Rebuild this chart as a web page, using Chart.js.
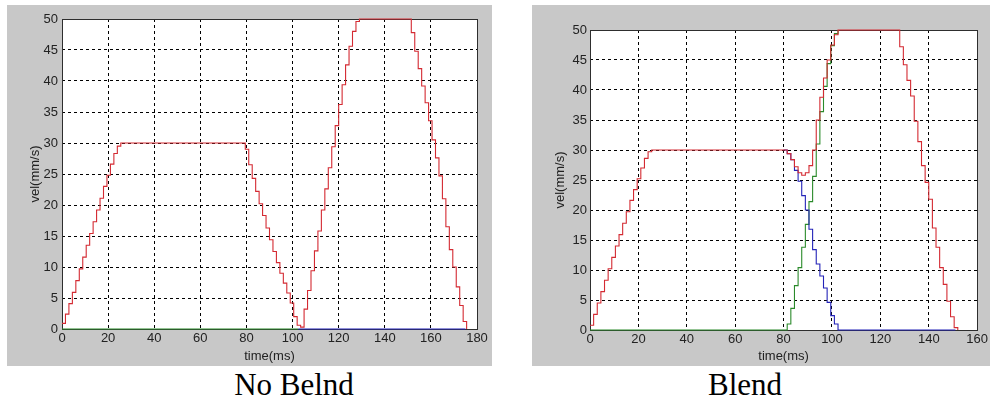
<!DOCTYPE html>
<html>
<head>
<meta charset="utf-8">
<script src="https://cdn.jsdelivr.net/npm/chart.js@4.4.0/dist/chart.umd.min.js"></script>
<style>
html,body{margin:0;padding:0;background:#fff;width:990px;height:401px;overflow:hidden;position:relative}
.panel{position:absolute;background:#c8c8c8}
.panel canvas{position:absolute;left:0;top:0}
.cap{position:absolute;font-family:"Liberation Serif","Times New Roman",serif;font-size:31px;line-height:31px;color:#000;white-space:nowrap;transform:translateX(-50%)}
</style>
</head>
<body>
<div class="panel" style="left:7px;top:5px;width:485px;height:361px"><canvas id="c1" width="485" height="361"></canvas></div>
<div class="panel" style="left:532px;top:5px;width:458px;height:361px"><canvas id="c2" width="458" height="361"></canvas></div>
<div class="cap" style="left:294px;top:369px">No Belnd</div>
<div class="cap" style="left:745px;top:369px">Blend</div>
<script>
// ---- Axis labels / ticks ----
const xTitle = "time(ms)";
const yTitle = "vel(mm/s)";
const captions = ["No Belnd", "Blend"];
const yTicksStep = 5, yMin = 0, yMax = 50;
const xTickStep = 20;
const noBlendXMax = 180;
const blendXMax = 160;

// ---- No Blend: red (combined) velocity ----
const nbRedT = [0,1.5,3,4.5,6,7.5,9,10.5,12,13.5,15,16.5,18,19.5,21,22.5,24,25.5,
  78,79.5,81,82.5,84,85.5,87,88.5,90,91.5,93,94.5,96,97.5,99,100.5,102,103.5,105,106.5,108,109.5,111,112.5,114,115.5,117,118.5,120,121.5,123,124.5,126,127.5,129,
  150,151.5,153,154.5,156,157.5,159,160.5,162,163.5,165,166.5,168,169.5,171,172.5,174,175.5];
const nbRedV = [0.9,2.4,4.1,5.9,7.8,9.7,11.6,13.5,15.4,17.3,19.2,21.1,23.0,24.8,26.6,28.3,29.5,30,
  30,29.0,26.5,24.3,22.2,20.2,18.3,16.3,14.4,12.5,10.7,9.0,7.4,5.8,4.2,2.0,0.6,0.3,3.2,6.2,9.4,12.6,15.8,19.2,22.6,26.0,29.4,32.8,36.2,39.4,42.6,45.6,48.0,49.6,50,
  50,47.8,44.8,42.0,39.2,36.5,33.6,30.5,27.6,24.7,21.0,16.5,12.8,10.0,6.8,3.8,1.2,0];
// ---- No Blend: green (motion 2, zero before start) ----
const nbGreenT = [0,102.5];
const nbGreenV = [0,0];
// ---- No Blend: blue (motion 1, zero after end) ----
const nbBlueT = [102.5,175];
const nbBlueV = [0,0];

// ---- Blend: red (combined) velocity ----
const blRedT = [0,1.5,3,4.5,6,7.5,9,10.5,12,13.5,15,16.5,18,19.5,21,22.5,24,25.5,
  80,81.5,83,84.5,86,87.5,89,90.5,92,93.5,95,96.5,98,99.5,101,102.5,
  126.5,128,129.5,131,132.5,134,135.5,137,138.5,140,141.5,143,144.5,146,147.5,149,150.5,152];
const blRedV = [0.8,2.6,4.5,6.4,8.3,10.2,12.1,14.0,15.9,17.8,19.7,21.6,23.4,25.2,27.0,28.6,29.7,30,
  30,29.4,28.4,27.2,26.2,25.8,26.2,27.4,30.0,35.0,38.8,42.0,45.0,47.5,49.2,50,
  50,47.2,44.2,41.6,39.0,34.8,31.4,27.4,24.6,21.8,17.0,13.8,10.4,7.6,4.8,2.2,0.4,0];
// ---- Blend: blue (motion 1 decelerating) ----
const blBlueT = [80,81.5,83,84.5,86,87.5,89,90.5,92,93.5,95,96.5,98,99.5,101,102.5,151];
const blBlueV = [30,29.4,28.4,26.6,24.8,22.4,20.0,16.8,13.4,11.0,9.0,7.0,4.6,2.4,1.0,0,0];
// ---- Blend: green (motion 2 accelerating) ----
const blGreenT = [0,80,81.5,83,84.5,86,87.5,89,90.5,92,93.5,95,96.5,98,99.5,101,102.5];
const blGreenV = [0,0,1.0,3.6,7.4,10.4,13.8,17.6,21.4,25.6,31.0,36.4,40.6,44.4,47.4,49.4,50];

const RED = '#d42a32', GREEN = '#2a8a2a', BLUE = '#2323b8';

function pts(T, V) { return T.map((t, i) => ({x: t, y: V[i]})); }

const boxPlugin = {
  id: 'box',
  beforeDraw(chart) {
    const {ctx, chartArea: a} = chart;
    ctx.save();
    ctx.fillStyle = '#ffffff';
    ctx.fillRect(a.left, a.top, a.right - a.left, a.bottom - a.top);
    ctx.restore();
  },
  beforeDatasetsDraw(chart) {
    const {ctx, chartArea: a} = chart;
    const l = Math.round(a.left), t = Math.round(a.top), r = Math.round(a.right), b = Math.round(a.bottom);
    ctx.save();
    ctx.strokeStyle = '#2e2e2e';
    ctx.lineWidth = 1;
    ctx.strokeRect(l + 0.5, t + 0.5, r - l, b - t);
    ctx.restore();
  }
};

function makeChart(id, xMax, series, pad, yW, xH, yTickPad, yTitlePad) {
  const font = {family: '"Liberation Sans", Arial, sans-serif', size: 13};
  return new Chart(document.getElementById(id), {
    type: 'line',
    data: {
      datasets: series.map(s => ({
        data: pts(s.T, s.V),
        borderColor: s.color,
        borderWidth: 1.1,
        pointRadius: 0,
        stepped: true,
        fill: false,
        clip: 4
      }))
    },
    options: {
      responsive: false,
      animation: false,
      devicePixelRatio: 1,
      layout: {padding: pad},
      plugins: {legend: {display: false}, tooltip: {enabled: false}},
      scales: {
        x: {
          type: 'linear', min: 0, max: xMax,
          afterFit: s => { s.height = xH; },
          ticks: {stepSize: xTickStep, color: '#222', font: font, padding: 2, maxRotation: 0},
          grid: {color: '#000', lineWidth: 1, drawTicks: false},
          border: {display: false, dash: [3, 3]},
          title: {display: true, text: xTitle, color: '#222', font: font, padding: {top: 0, bottom: 2}}
        },
        y: {
          type: 'linear', min: yMin, max: yMax,
          afterFit: s => { s.width = yW; },
          ticks: {stepSize: yTicksStep, color: '#222', font: font, padding: yTickPad},
          grid: {color: '#000', lineWidth: 1, drawTicks: false},
          border: {display: false, dash: [3, 3]},
          title: {display: true, text: yTitle, color: '#222', font: font, padding: {top: yTitlePad, bottom: 0}}
        }
      }
    },
    plugins: [boxPlugin]
  });
}

makeChart('c1', noBlendXMax, [
  {T: nbRedT, V: nbRedV, color: RED},
  {T: nbBlueT, V: nbBlueV, color: BLUE},
  {T: nbGreenT, V: nbGreenV, color: GREEN}
], {top: 14, right: 15, left: 0, bottom: 0}, 55, 37, 4, 21);

makeChart('c2', blendXMax, [
  {T: blRedT, V: blRedV, color: RED},
  {T: blBlueT, V: blBlueV, color: BLUE},
  {T: blGreenT, V: blGreenV, color: GREEN}
], {top: 25, right: 11, left: 0, bottom: 0}, 58, 36, 3, 21);
</script>
</body>
</html>
